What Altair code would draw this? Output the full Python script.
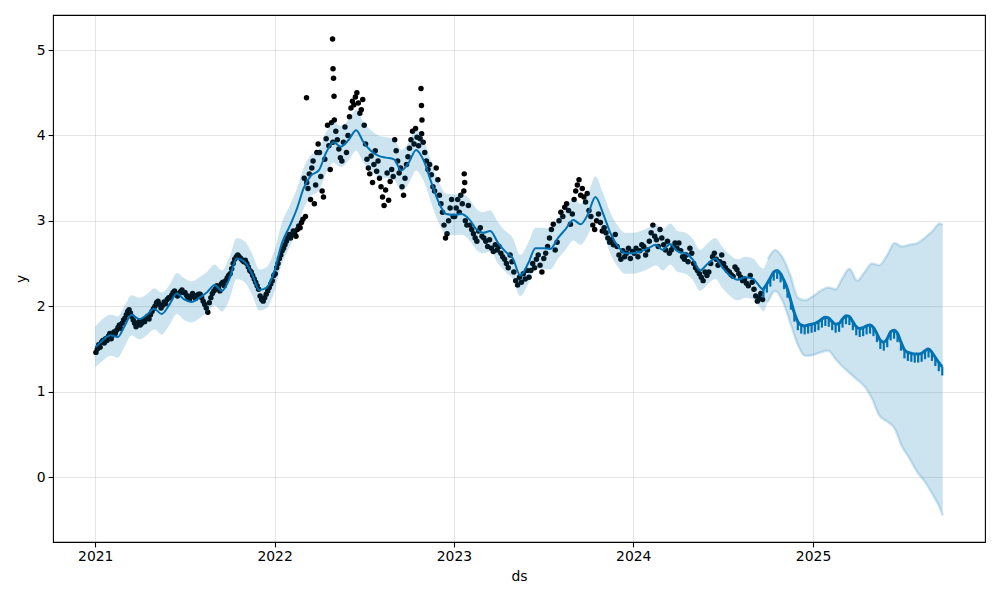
import altair as alt
import pandas as pd

# ---------------- data ----------------
DATA_START = "2021-01-01"
DATA_END = "2024-09-22"

# observed points, one list per month (Jan 2021 .. Sep 2024)
obs_2021 = [
    [1.46, 1.50, 1.55, 1.52, 1.58, 1.60, 1.57, 1.62, 1.60, 1.65, 1.68],
    [1.62, 1.66, 1.70, 1.68, 1.72, 1.75, 1.78, 1.74, 1.80, 1.84],
    [1.86, 1.90, 1.94, 1.96, 1.92, 1.88, 1.84, 1.80, 1.76, 1.78, 1.82],
    [1.78, 1.80, 1.84, 1.82, 1.86, 1.88, 1.85, 1.90, 1.94, 1.97],
    [2.00, 2.04, 2.06, 2.02, 1.98, 2.01, 2.05, 2.03, 2.08, 2.10],
    [2.10, 2.13, 2.16, 2.18, 2.14, 2.12, 2.15, 2.17, 2.19, 2.16],
    [2.16, 2.13, 2.10, 2.08, 2.12, 2.15, 2.11, 2.09, 2.13, 2.14],
    [2.14, 2.10, 2.06, 2.02, 1.98, 1.93, 2.04, 2.10, 2.15, 2.18],
    [2.20, 2.24, 2.22, 2.18, 2.26, 2.28, 2.24, 2.30, 2.33, 2.36],
    [2.38, 2.44, 2.50, 2.55, 2.58, 2.60, 2.58, 2.56, 2.54, 2.52],
    [2.54, 2.50, 2.46, 2.42, 2.40, 2.36, 2.32, 2.28, 2.24, 2.20],
    [2.12, 2.08, 2.06, 2.10, 2.14, 2.18, 2.22, 2.26, 2.30, 2.36],
]
obs_2022 = [
    [2.38, 2.45, 2.50, 2.56, 2.60, 2.65, 2.68, 2.72, 2.76, 2.80, 2.84],
    [2.80, 2.84, 2.88, 2.86, 2.82, 2.90, 2.94, 2.92, 2.98, 3.02],
    [3.50, 3.05, 3.45, 3.38, 3.55, 3.25, 3.62, 3.70, 3.20, 3.42, 3.80, 3.90],
    [3.80, 3.52, 3.35, 3.28, 3.72, 3.96, 4.12, 3.88, 3.60, 4.15, 3.92],
    [4.18, 4.05, 3.95, 3.84, 3.74, 3.70, 3.92, 4.10, 3.80, 4.00],
    [4.22, 4.32, 4.40, 4.36, 4.45, 4.50, 4.38, 4.26, 4.30, 4.42],
    [4.12, 3.90, 3.72, 3.62, 3.55, 3.76, 3.45, 3.66, 3.82, 3.58, 3.70],
    [3.50, 3.40, 3.28, 3.18, 3.36, 3.56, 3.24, 3.46, 3.60, 3.52],
    [3.95, 3.82, 3.70, 3.56, 3.62, 3.40, 3.30, 3.50, 3.66, 3.75],
    [3.85, 3.95, 4.05, 3.90, 4.08, 3.98, 3.88, 3.96, 4.02, 3.92],
    [3.80, 3.70, 3.60, 3.66, 3.54, 3.40, 3.35, 3.62, 3.48],
    [3.30, 3.20, 3.10, 2.95, 2.80, 2.85, 3.00, 3.15, 3.25, 3.05],
]
obs_2023 = [
    [3.05, 3.15, 3.25, 3.10, 3.30, 3.20, 3.35, 3.00, 2.95, 3.18],
    [2.95, 2.90, 2.85, 2.80, 2.76, 2.88, 2.92, 2.82],
    [2.80, 2.76, 2.70, 2.78, 2.68, 2.64, 2.72, 2.66],
    [2.70, 2.62, 2.58, 2.55, 2.50, 2.45, 2.60, 2.52],
    [2.40, 2.30, 2.25, 2.34, 2.28, 2.38, 2.32, 2.42],
    [2.34, 2.42, 2.50, 2.45, 2.55, 2.60, 2.48, 2.40],
    [2.56, 2.62, 2.70, 2.80, 2.90, 2.96, 2.66, 2.75],
    [3.00, 3.10, 3.05, 3.16, 3.20, 3.12, 2.96, 3.08],
    [3.25, 3.35, 3.42, 3.48, 3.30, 3.38, 3.28, 3.22, 3.32],
    [3.12, 3.05, 2.95, 2.90, 3.00, 3.08, 2.98, 2.88],
    [2.92, 2.86, 2.80, 2.75, 2.78, 2.72, 2.84, 2.70],
    [2.60, 2.55, 2.65, 2.58, 2.62, 2.68, 2.56, 2.64],
]
obs_2024 = [
    [2.62, 2.68, 2.58, 2.65, 2.72, 2.70, 2.60, 2.66],
    [2.76, 2.86, 2.95, 2.82, 2.78, 2.70, 2.90, 2.80],
    [2.72, 2.66, 2.76, 2.62, 2.66, 2.70, 2.74, 2.68],
    [2.74, 2.65, 2.58, 2.55, 2.60, 2.52, 2.68, 2.62],
    [2.50, 2.45, 2.42, 2.38, 2.34, 2.30, 2.40, 2.36],
    [2.40, 2.50, 2.58, 2.62, 2.55, 2.48, 2.52, 2.60],
    [2.50, 2.45, 2.42, 2.40, 2.37, 2.35, 2.46, 2.43],
    [2.38, 2.34, 2.30, 2.32, 2.27, 2.24, 2.36, 2.28],
    [2.20, 2.12, 2.06, 2.10, 2.15, 2.08],
]

# isolated spikes
spike_dates = ["2022-03-07", "2022-04-29", "2022-04-30", "2022-05-01", "2022-05-02",
               "2022-10-26", "2022-10-27", "2022-10-28", "2023-01-22", "2023-01-23"]
spike_values = [4.44, 5.13, 4.78, 4.67, 4.46, 4.55, 4.35, 4.18, 3.55, 3.45]

# fitted trend (1st and 16th of each month, history)
yhat_2021 = [1.52, 1.60, 1.66, 1.64, 1.76, 1.90, 1.85, 1.90, 1.97, 1.91, 2.02, 2.15,
             2.08, 2.05, 2.10, 2.16, 2.25, 2.18, 2.32, 2.56, 2.52, 2.38, 2.19, 2.22]
yhat_2022 = [2.42, 2.74, 2.94, 3.15, 3.38, 3.53, 3.59, 3.80, 3.92, 3.87, 3.95, 4.06,
             3.92, 3.82, 3.76, 3.74, 3.72, 3.59, 3.68, 3.83, 3.70, 3.45, 3.22, 3.08]
yhat_2023 = [3.07, 3.08, 3.02, 2.90, 2.86, 2.88, 2.74, 2.64, 2.56, 2.36, 2.50, 2.68,
             2.68, 2.67, 2.80, 2.90, 3.01, 2.96, 3.08, 3.28, 3.08, 2.85, 2.70, 2.62]
yhat_2024 = [2.62, 2.64, 2.68, 2.72, 2.66, 2.73, 2.64, 2.62, 2.55, 2.42, 2.50, 2.56,
             2.45, 2.36, 2.31, 2.34, 2.32, 2.22, 2.19]  # last value = 2024-09-22

upper_2021 = [1.76, 1.85, 1.90, 1.88, 2.00, 2.13, 2.10, 2.14, 2.21, 2.16, 2.25, 2.39,
              2.33, 2.29, 2.34, 2.40, 2.49, 2.42, 2.57, 2.80, 2.76, 2.62, 2.43, 2.46]
upper_2022 = [2.66, 2.98, 3.18, 3.39, 3.62, 3.77, 3.83, 4.04, 4.16, 4.11, 4.19, 4.30,
              4.16, 4.06, 4.00, 3.98, 3.96, 3.83, 3.92, 4.07, 3.94, 3.69, 3.46, 3.32]
upper_2023 = [3.31, 3.32, 3.26, 3.14, 3.10, 3.12, 2.98, 2.88, 2.80, 2.60, 2.74, 2.92,
              2.92, 2.91, 3.04, 3.14, 3.25, 3.20, 3.32, 3.52, 3.32, 3.09, 2.94, 2.86]
upper_2024 = [2.86, 2.88, 2.92, 2.96, 2.90, 2.97, 2.88, 2.86, 2.79, 2.66, 2.74, 2.80,
              2.69, 2.60, 2.55, 2.58, 2.56, 2.46, 2.44]

lower_2021 = [1.29, 1.36, 1.42, 1.40, 1.52, 1.66, 1.61, 1.66, 1.73, 1.67, 1.78, 1.91,
              1.84, 1.81, 1.86, 1.92, 2.01, 1.94, 2.08, 2.32, 2.28, 2.14, 1.95, 1.98]
lower_2022 = [2.18, 2.50, 2.70, 2.91, 3.14, 3.29, 3.35, 3.56, 3.68, 3.63, 3.71, 3.82,
              3.68, 3.58, 3.52, 3.50, 3.48, 3.35, 3.44, 3.59, 3.46, 3.21, 2.98, 2.84]
lower_2023 = [2.83, 2.84, 2.78, 2.66, 2.62, 2.64, 2.50, 2.40, 2.32, 2.12, 2.26, 2.44,
              2.44, 2.43, 2.56, 2.66, 2.77, 2.72, 2.84, 3.04, 2.84, 2.61, 2.46, 2.38]
lower_2024 = [2.38, 2.40, 2.44, 2.48, 2.42, 2.49, 2.40, 2.38, 2.31, 2.18, 2.26, 2.32,
              2.21, 2.12, 2.07, 2.10, 2.08, 1.98, 1.94]

# forecast uncertainty band (1st and 16th, Oct 2024 .. Sep 2025, plus 2025-09-22)
fc_upper = [2.55, 2.66, 2.56, 2.36, 2.10, 2.07, 2.12, 2.18, 2.22, 2.20, 2.32, 2.44,
            2.30, 2.40, 2.50, 2.48, 2.60, 2.74, 2.70, 2.72, 2.74, 2.80, 2.88, 2.97, 2.95]
fc_lower = [2.05, 2.18, 2.05, 1.80, 1.55, 1.42, 1.43, 1.46, 1.48, 1.38, 1.30, 1.22,
            1.14, 1.06, 0.92, 0.72, 0.65, 0.57, 0.36, 0.22, 0.06, -0.05, -0.20, -0.36, -0.45]

# weekly forecast (from 2024-09-22): weekday level and weekend dip
fc_top = [2.20, 2.26, 2.33, 2.40, 2.42, 2.38, 2.30, 2.20, 2.06, 1.92,
          1.82, 1.78, 1.77, 1.78, 1.79, 1.80, 1.82, 1.85, 1.87, 1.86,
          1.82, 1.79, 1.80, 1.85, 1.89, 1.88, 1.82, 1.76, 1.74, 1.75,
          1.77, 1.78, 1.75, 1.68, 1.60, 1.58, 1.62, 1.70, 1.72, 1.68,
          1.58, 1.49, 1.46, 1.45, 1.44, 1.44, 1.45, 1.48, 1.50, 1.46,
          1.40, 1.34, 1.29]
fc_dip = [2.10, 2.16, 2.23, 2.30, 2.32, 2.28, 2.20, 2.10, 1.96, 1.82,
          1.72, 1.68, 1.67, 1.68, 1.69, 1.70, 1.72, 1.75, 1.77, 1.76,
          1.72, 1.69, 1.70, 1.75, 1.79, 1.78, 1.72, 1.66, 1.64, 1.65,
          1.67, 1.68, 1.65, 1.58, 1.50, 1.48, 1.52, 1.60, 1.62, 1.58,
          1.48, 1.39, 1.36, 1.35, 1.34, 1.34, 1.35, 1.38, 1.40, 1.36,
          1.30, 1.24, 1.19]

# ---------------- tables ----------------
start = pd.Timestamp(DATA_START)
end = pd.Timestamp(DATA_END)

rows = []
for k, vals in enumerate(obs_2021 + obs_2022 + obs_2023 + obs_2024):
    m0 = start + pd.DateOffset(months=k)
    m1 = min(m0 + pd.DateOffset(months=1), end)
    span = (m1 - m0).days
    for i, v in enumerate(vals):
        rows.append({"ds": m0 + pd.Timedelta(days=(i + 0.5) * span / len(vals)), "y": v})
for d, v in zip(spike_dates, spike_values):
    rows.append({"ds": pd.Timestamp(d), "y": v})
obs_df = pd.DataFrame(rows)

hist_dates = []
for k in range(45):
    m0 = start + pd.DateOffset(months=k)
    hist_dates += [m0, m0 + pd.Timedelta(days=15)]
hist_dates.append(end)
hist_df = pd.DataFrame({
    "ds": hist_dates,
    "yhat": yhat_2021 + yhat_2022 + yhat_2023 + yhat_2024,
    "upper": upper_2021 + upper_2022 + upper_2023 + upper_2024,
    "lower": lower_2021 + lower_2022 + lower_2023 + lower_2024,
})

fc_dates = []
for k in range(12):
    m0 = pd.Timestamp("2024-10-01") + pd.DateOffset(months=k)
    fc_dates += [m0, m0 + pd.Timedelta(days=15)]
fc_dates.append(pd.Timestamp("2025-09-22"))
fc_band_df = pd.DataFrame({"ds": fc_dates, "upper": fc_upper, "lower": fc_lower})
band_df = pd.concat([hist_df[["ds", "upper", "lower"]], fc_band_df], ignore_index=True)

week_df = pd.DataFrame({
    "ds": pd.date_range(DATA_END, periods=len(fc_top), freq="7D"),
    "top": fc_top,
    "dip": fc_dip,
})

# ---------------- chart ----------------
FONT = "DejaVu Sans"
BLUE = "#0072B2"

xscale = alt.Scale(domain=[alt.DateTime(year=2020, month=10, date=7),
                           alt.DateTime(year=2025, month=12, date=17)], nice=False)
yscale = alt.Scale(domain=[-0.76, 5.41], nice=False, zero=False)
xaxis = alt.Axis(values=[alt.DateTime(year=yr, month=1, date=1) for yr in range(2021, 2026)],
                 format="%Y", title="ds")
yaxis = alt.Axis(values=[0, 1, 2, 3, 4, 5], format="d", title="y")


def X():
    return alt.X("ds:T", scale=xscale, axis=xaxis)


obs = alt.Chart(obs_df).mark_circle(color="black", size=30, opacity=1).encode(
    x=X(), y=alt.Y("y:Q", scale=yscale, axis=yaxis))
hist_line = alt.Chart(hist_df).mark_line(color=BLUE, strokeWidth=2, interpolate="monotone").encode(
    x=X(), y=alt.Y("yhat:Q", title="y"))
fut_line = alt.Chart(week_df).mark_line(color=BLUE, strokeWidth=3, interpolate="monotone").encode(
    x=X(), y=alt.Y("top:Q", title="y"))
fut_ticks = alt.Chart(week_df).mark_rule(color=BLUE, strokeWidth=2.2).encode(
    x=X(), y=alt.Y("top:Q", title="y"), y2="dip:Q")
band = alt.Chart(band_df).mark_area(color=BLUE, opacity=0.2, interpolate="monotone").encode(
    x=X(), y=alt.Y("lower:Q", title="y"), y2="upper:Q")
edge_up = alt.Chart(fc_band_df).mark_line(color=BLUE, opacity=0.18, strokeWidth=2.5,
                                           interpolate="monotone").encode(
    x=X(), y=alt.Y("upper:Q", title="y"))
edge_lo = alt.Chart(fc_band_df).mark_line(color=BLUE, opacity=0.18, strokeWidth=2.5,
                                           interpolate="monotone").encode(
    x=X(), y=alt.Y("lower:Q", title="y"))

chart = alt.layer(obs, hist_line, fut_line, fut_ticks, band, edge_up, edge_lo).properties(
    width=932, height=527,
    padding={"left": 53, "top": 15, "right": 15, "bottom": 58},
    autosize=alt.AutoSizeParams(type="none"),
    background="white",
).configure_view(
    stroke="black", strokeWidth=1.1
).configure_axis(
    labelFont=FONT, titleFont=FONT, labelFontSize=13.9, titleFontSize=13.9,
    labelColor="black", titleColor="black", titleFontWeight="normal",
    tickColor="black", tickSize=4.9, tickWidth=1.1, labelPadding=3,
    domain=False, grid=True, gridColor="gray", gridOpacity=0.2, gridWidth=1,
).configure_axisX(
    titlePadding=6,
).configure_axisY(
    titlePadding=8,
)

chart.save("out.html", embed_options={"renderer": "svg", "actions": False})
